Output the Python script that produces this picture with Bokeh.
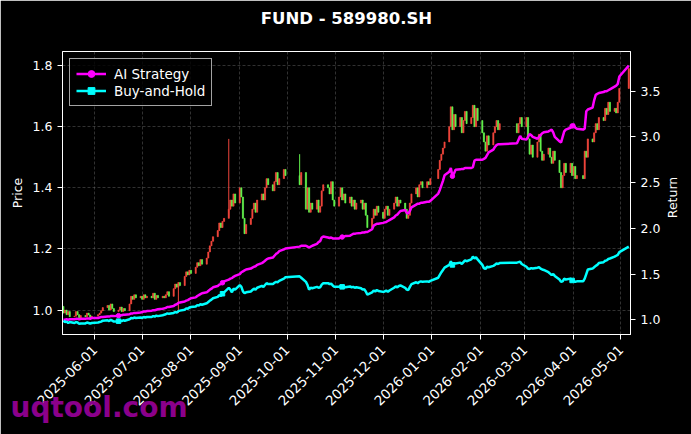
import math
import pandas as pd
from bokeh.plotting import figure
from bokeh.models import (Range1d, LinearAxis, FixedTicker, NumeralTickFormatter,
                          DatetimeTickFormatter, MonthsTicker, Legend, LegendItem, Title, Label)
from bokeh.embed import file_html
from bokeh.resources import INLINE

# ---------------- data ----------------
START = "2025-05-12"
END = "2026-05-06"
HOLIDAYS = ["2025-06-02", "2025-10-01", "2025-10-02", "2025-10-03", "2025-10-06",
            "2025-10-07", "2025-10-08", "2026-01-01", "2026-01-02", "2026-02-16",
            "2026-02-17", "2026-02-18", "2026-02-19", "2026-02-20", "2026-02-23",
            "2026-04-06", "2026-05-01", "2026-05-04", "2026-05-05"]

FIRST_OPEN = 1.012
CLOSE = [
    0.990, 1.000, 0.985, 0.995, 0.978,   # May 12-16
    0.980, 0.995, 0.985, 0.975, 0.982,   # May 19-23
    0.978, 0.990, 0.984, 0.975, 0.980,   # May 26-30
    0.985, 0.990, 0.998, 1.008,          # Jun 3-6
    1.015, 1.000, 1.020, 1.005, 0.995,   # Jun 9-13
    1.000, 1.010, 0.995, 1.005, 0.998,   # Jun 16-20
    1.020, 1.045, 1.035, 1.050, 1.040,   # Jun 23-27
    1.045,                               # Jun 30
    1.035, 1.050, 1.040, 1.045,          # Jul 1-4
    1.040, 1.055, 1.035, 1.048, 1.040,   # Jul 7-11
    1.045, 1.040, 1.050, 1.060, 1.045,   # Jul 14-18
    1.070, 1.085, 1.075, 1.090, 1.080,   # Jul 21-25
    1.110, 1.125, 1.115, 1.130,          # Jul 28-31
    1.120,                               # Aug 1
    1.140, 1.155, 1.145, 1.165, 1.150,   # Aug 4-8
    1.170, 1.190, 1.210, 1.225, 1.240,   # Aug 11-15
    1.260, 1.285, 1.270, 1.290, 1.300,   # Aug 18-22
    1.330, 1.360, 1.340, 1.380, 1.350,   # Aug 25-29
    1.400, 1.370, 1.300, 1.250, 1.280,   # Sep 1-5
    1.300, 1.330, 1.350, 1.320, 1.360,   # Sep 8-12
    1.380, 1.360, 1.400, 1.430, 1.410,   # Sep 15-19
    1.390, 1.420, 1.450, 1.410, 1.430,   # Sep 22-26
    1.460, 1.440,                        # Sep 29-30
    1.410, 1.450,                        # Oct 9-10
    1.330, 1.400, 1.320, 1.350, 1.330,   # Oct 13-17
    1.360, 1.320, 1.340, 1.390, 1.410,   # Oct 20-24
    1.400, 1.380, 1.420, 1.360, 1.340,   # Oct 27-31
    1.370, 1.400, 1.360, 1.380, 1.350,   # Nov 3-7
    1.370, 1.340, 1.360, 1.330, 1.350,   # Nov 10-14
    1.360, 1.330, 1.350, 1.310, 1.270,   # Nov 17-21
    1.300, 1.330, 1.310, 1.340, 1.320,   # Nov 24-28
    1.300, 1.330, 1.340, 1.310, 1.330,   # Dec 1-5
    1.350, 1.370, 1.340, 1.360, 1.350,   # Dec 8-12
    1.330, 1.300, 1.310, 1.350, 1.380,   # Dec 15-19
    1.400, 1.370, 1.410, 1.420, 1.400,   # Dec 22-26
    1.420, 1.410, 1.430,                 # Dec 29-31
    1.460, 1.490, 1.510, 1.530, 1.550,   # Jan 5-9
    1.600, 1.665, 1.590, 1.640, 1.600,   # Jan 12-16
    1.630, 1.580, 1.620, 1.650, 1.610,   # Jan 19-23
    1.630, 1.670, 1.600, 1.660, 1.620,   # Jan 26-30
    1.580, 1.550, 1.520, 1.570, 1.540,   # Feb 2-6
    1.580, 1.600, 1.620, 1.590, 1.610,   # Feb 9-13
    1.580, 1.610, 1.630, 1.600,          # Feb 24-27
    1.630, 1.560, 1.510, 1.540, 1.500,   # Mar 2-6
    1.550, 1.575, 1.520, 1.490, 1.510,   # Mar 9-13
    1.530, 1.500, 1.480, 1.520, 1.490,   # Mar 16-20
    1.450, 1.400, 1.440, 1.480, 1.450,   # Mar 23-27
    1.480, 1.440, 1.470, 1.430, 1.440,   # Mar 30-Apr 3
    1.430, 1.520, 1.500, 1.560,          # Apr 7-10
    1.550, 1.580, 1.610, 1.590, 1.630,   # Apr 13-17
    1.620, 1.660, 1.640, 1.680, 1.650,   # Apr 20-24
    1.660, 1.645, 1.680, 1.725,          # Apr 27-30
    1.790,                               # May 6
]

AI_RETURN = [
    1.000, 1.000, 1.005, 1.000, 1.005,
    1.005, 1.010, 1.010, 1.005, 1.010,
    1.010, 1.015, 1.015, 1.010, 1.020,
    1.020, 1.025, 1.030, 1.030,
    1.035, 1.035, 1.040, 1.040, 1.040,
    1.045, 1.050, 1.050, 1.055, 1.055,
    1.060, 1.070, 1.070, 1.075, 1.075,
    1.080,
    1.085, 1.090, 1.090, 1.095,
    1.100, 1.105, 1.105, 1.110, 1.115,
    1.120, 1.125, 1.130, 1.140, 1.140,
    1.150, 1.165, 1.170, 1.185, 1.190,
    1.200, 1.210, 1.215, 1.225,
    1.235,
    1.245, 1.260, 1.270, 1.280, 1.290,
    1.300, 1.315, 1.330, 1.340, 1.355,
    1.370, 1.385, 1.390, 1.405, 1.420,
    1.440, 1.450, 1.455, 1.470, 1.480,
    1.500, 1.520, 1.530, 1.540, 1.550,
    1.560, 1.570, 1.580, 1.585, 1.600,
    1.620, 1.630, 1.645, 1.660, 1.670,
    1.680, 1.700, 1.720, 1.730, 1.750,
    1.770, 1.780,
    1.800, 1.810,
    1.810, 1.800, 1.790, 1.800, 1.810,
    1.830, 1.850, 1.860, 1.900, 1.910,
    1.900, 1.895, 1.900, 1.890, 1.890,
    1.890, 1.900, 1.905, 1.910, 1.915,
    1.920, 1.930, 1.940, 1.940, 1.945,
    1.950, 1.955, 1.955, 1.960, 1.960,
    1.990, 2.030, 2.040, 2.050, 2.050,
    2.060, 2.065, 2.070, 2.080, 2.090,
    2.120, 2.140, 2.150, 2.170, 2.190,
    2.200, 2.170, 2.160, 2.190, 2.230,
    2.260, 2.270, 2.270, 2.280, 2.280,
    2.290, 2.290, 2.300,
    2.380, 2.420, 2.470, 2.520, 2.580,
    2.620, 2.660, 2.570, 2.600, 2.640,
    2.645, 2.650, 2.650, 2.660, 2.660,
    2.660, 2.670, 2.740, 2.750, 2.750,
    2.750, 2.760, 2.770, 2.800, 2.830,
    2.860, 2.890, 2.910, 2.920, 2.920,
    2.930, 2.970, 3.010, 2.980,
    2.970, 3.000, 3.030, 3.020, 3.000,
    2.980, 3.000, 3.020, 3.040, 3.050,
    3.060, 3.070, 3.080, 3.050, 3.000,
    2.950, 2.940, 3.000, 3.060, 3.080,
    3.100, 3.120, 3.140, 3.100, 3.090,
    3.080, 3.090, 3.280, 3.300,
    3.320, 3.400, 3.460, 3.470, 3.480,
    3.490, 3.500, 3.500, 3.510, 3.520,
    3.550, 3.560, 3.580, 3.660,
    3.780,
]

BH_RETURN = [
    0.990, 0.975, 0.980, 0.965, 0.975,
    0.965, 0.975, 0.970, 0.955, 0.960,
    0.960, 0.970, 0.965, 0.958, 0.965,
    0.970, 0.975, 0.980, 0.990,
    0.995, 0.985, 1.000, 0.990, 0.980,
    0.985, 0.995, 0.985, 0.995, 0.990,
    1.005, 1.020, 1.015, 1.025, 1.020,
    1.025,
    1.020, 1.030, 1.025, 1.030,
    1.030, 1.040, 1.035, 1.045, 1.040,
    1.050, 1.055, 1.060, 1.070, 1.065,
    1.075, 1.085, 1.080, 1.095, 1.100,
    1.110, 1.125, 1.120, 1.135,
    1.140,
    1.145, 1.160, 1.155, 1.170, 1.165,
    1.180, 1.195, 1.210, 1.220, 1.235,
    1.250, 1.270, 1.260, 1.285, 1.300,
    1.350, 1.330, 1.300, 1.340, 1.330,
    1.380, 1.360, 1.310, 1.290, 1.300,
    1.310, 1.325, 1.340, 1.330, 1.350,
    1.370, 1.360, 1.380, 1.400, 1.390,
    1.390, 1.405, 1.415, 1.410, 1.425,
    1.450, 1.465,
    1.475, 1.460,
    1.415, 1.380, 1.330, 1.350, 1.345,
    1.360, 1.350, 1.355, 1.385, 1.400,
    1.400, 1.390, 1.395, 1.375, 1.360,
    1.360, 1.370, 1.360, 1.365, 1.355,
    1.365, 1.355, 1.360, 1.350, 1.355,
    1.345, 1.330, 1.335, 1.310, 1.275,
    1.300, 1.320, 1.310, 1.325, 1.315,
    1.305, 1.310, 1.320, 1.305, 1.320,
    1.350, 1.365, 1.355, 1.370, 1.375,
    1.350, 1.330, 1.325, 1.360, 1.390,
    1.410, 1.400, 1.415, 1.420, 1.415,
    1.420, 1.415, 1.425,
    1.460, 1.490, 1.520, 1.545, 1.570,
    1.600, 1.640, 1.600, 1.620, 1.615,
    1.625, 1.610, 1.630, 1.650, 1.640,
    1.660, 1.690, 1.670, 1.685, 1.660,
    1.600, 1.565, 1.555, 1.580, 1.575,
    1.590, 1.600, 1.615, 1.610, 1.620,
    1.625, 1.630, 1.635, 1.610,
    1.580, 1.560, 1.555, 1.565, 1.560,
    1.570, 1.575, 1.560, 1.550, 1.545,
    1.520, 1.505, 1.490, 1.500, 1.480,
    1.440, 1.415, 1.420, 1.450, 1.440,
    1.450, 1.430, 1.425, 1.415, 1.420,
    1.420, 1.450, 1.500, 1.550,
    1.560, 1.575, 1.590, 1.600, 1.620,
    1.630, 1.645, 1.650, 1.665, 1.670,
    1.690, 1.700, 1.710, 1.740,
    1.800,
]

HIGH_WICKS = {"2025-08-25": 1.56, "2025-10-09": 1.51}
LOW_WICKS = {"2025-07-24": 0.99}
MARK_IDX = [24, 72, 120, 168, 216]

PRICE_TICKS = [1.0, 1.2, 1.4, 1.6, 1.8]
RETURN_TICKS = [1.0, 1.5, 2.0, 2.5, 3.0, 3.5]

# ---------------- derived ----------------
dates = pd.bdate_range(START, END)
dates = dates[~dates.isin(pd.to_datetime(HOLIDAYS))]
opens = [FIRST_OPEN] + CLOSE[:-1]
tops = [max(o, c) for o, c in zip(opens, CLOSE)]
bots = [min(o, c) for o, c in zip(opens, CLOSE)]
keys = [d.strftime("%Y-%m-%d") for d in dates]
highs = [max(t, HIGH_WICKS.get(k, t)) for t, k in zip(tops, keys)]
lows = [min(b, LOW_WICKS.get(k, b)) for b, k in zip(bots, keys)]
UP, DOWN = "#f0463c", "#62f04c"
colors = [UP if c >= o else DOWN for o, c in zip(opens, CLOSE)]

FONT = "DejaVu Sans"

p = figure(width=691, height=434, x_axis_type="datetime",
           x_range=Range1d(pd.Timestamp("2025-05-11 10:00"), pd.Timestamp("2026-05-07 02:00")),
           y_range=Range1d(0.920, 1.846),
           output_backend="svg", toolbar_location=None,
           min_border_left=62, min_border_right=61, min_border_top=51, min_border_bottom=100,
           background_fill_color="black", border_fill_color="black",
           outline_line_color="white", outline_line_width=1)

p.extra_y_ranges = {"ret": Range1d(0.839, 3.934)}
raxis = LinearAxis(y_range_name="ret")
p.add_layout(raxis, "right")

# the built-in title slot stays empty; the title is a label in the top panel
p.title.text = ""
title_label = Label(x=284, y=33, x_units="screen", y_units="screen",
                    text="FUND - 589980.SH", text_align="center", text_baseline="middle",
                    text_color="white", text_font=FONT, text_font_size="16.5px",
                    text_font_style="bold")
p.add_layout(title_label, "above")

xa = p.xaxis[0]
ya = p.yaxis[0]
ya.axis_label = "Price"
xa.ticker = MonthsTicker(months=list(range(1, 13)))
fmt = "%Y-%m-%d"
xa.formatter = DatetimeTickFormatter(days=fmt, months=fmt, years=fmt)
xa.major_label_orientation = math.pi / 4
ya.ticker = FixedTicker(ticks=PRICE_TICKS)
ya.formatter = NumeralTickFormatter(format="0.0")
raxis.ticker = FixedTicker(ticks=RETURN_TICKS)
raxis.formatter = NumeralTickFormatter(format="0.0")

for ax in (xa, ya, raxis):
    ax.axis_line_color = "white"
    ax.major_tick_line_color = "white"
    ax.minor_tick_line_color = None
    ax.major_tick_out = 5
    ax.major_tick_in = 0
    ax.major_label_text_color = "white"
    ax.major_label_text_font = FONT
    ax.major_label_text_font_size = "12.5px"
    ax.axis_label_text_color = "white"
    ax.axis_label_text_font = FONT
    ax.axis_label_text_font_size = "12.5px"
    ax.axis_label_text_font_style = "normal"
xa.major_label_text_font_size = "13.5px"
xa.major_label_standoff = 8

p.grid.grid_line_color = "#777777"
p.grid.grid_line_dash = "3 2"
p.grid.grid_line_width = 0.6
p.grid.grid_line_alpha = 0.7

day = 86400000
p.segment(x0=dates, y0=lows, x1=dates, y1=highs, line_color=colors, line_width=1)
p.vbar(x=dates, top=tops, bottom=bots, width=0.8 * day, fill_color=colors,
       line_color=colors, line_width=0.5)

ai_line = p.line(dates, AI_RETURN, y_range_name="ret", line_color="#ff00ff", line_width=2.5)
bh_line = p.line(dates, BH_RETURN, y_range_name="ret", line_color="#00ffff", line_width=2.5)
mdates = [dates[i] for i in MARK_IDX]
ai_mark = p.scatter(mdates, [AI_RETURN[i] for i in MARK_IDX],
                    y_range_name="ret", marker="circle", size=4.5, color="#ff00ff")
bh_mark = p.scatter(mdates, [BH_RETURN[i] for i in MARK_IDX],
                    y_range_name="ret", marker="square", size=4.5, color="#00ffff")

legend = Legend(items=[LegendItem(label="AI Strategy", renderers=[ai_line, ai_mark]),
                       LegendItem(label="Buy-and-Hold", renderers=[bh_line, bh_mark])],
                location="top_left", margin=7, padding=6, spacing=0,
                glyph_width=30, glyph_height=17, label_height=17, label_standoff=8,
                label_text_color="white", label_text_font=FONT, label_text_font_size="13.5px",
                background_fill_color="black", background_fill_alpha=0.8,
                border_line_color="#cccccc", border_line_alpha=0.8, border_line_width=1)
p.add_layout(legend)

# right axis title, reading upwards, in the right side panel (not clipped)
ret_label = Label(x=9, y=137, x_units="screen", y_units="screen", text="Return",
                  angle=math.pi / 2, text_align="center", text_baseline="middle",
                  text_color="white", text_font=FONT, text_font_size="12.5px")
p.add_layout(ret_label, "right")

# watermark below the x axis (side-panel titles are not clipped to the frame)
wm = Title(text="uqtool.com", align="left", vertical_align="top",
           text_color="#8b008b", text_font=FONT, text_font_size="28px",
           text_font_style="bold")
try:
    wm.offset = -52
    wm.standoff = -46
except Exception:
    pass
p.add_layout(wm, "below")

open("out.html", "w").write(file_html(p, INLINE))
